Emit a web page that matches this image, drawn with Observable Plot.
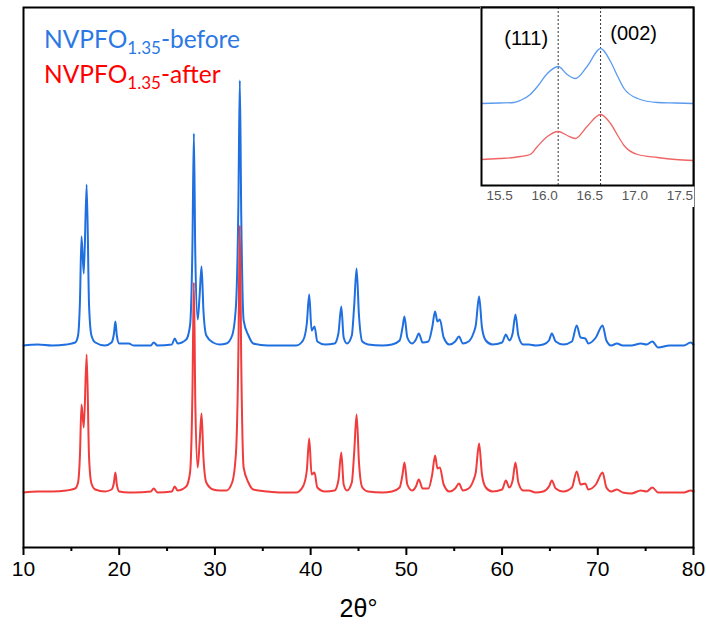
<!DOCTYPE html>
<html>
<head>
<meta charset="utf-8">
<script src="https://cdn.jsdelivr.net/npm/d3@7"></script>
<script src="https://cdn.jsdelivr.net/npm/@observablehq/plot@0.6"></script>
<style>
  body { margin: 0; background: #fff; }
  #wrap { position: relative; width: 706px; height: 634px; overflow: hidden; background: #fff; }
  #main { position: absolute; left: 0; top: 0; }
  #inset { position: absolute; left: 480px; top: 7px; }
</style>
</head>
<body>
<div id="wrap"><div id="main"></div><div id="inset"></div></div>
<script>
// ---- Data ----
const twoTheta = [
  10, 11.5, 13, 14.5, 15.4, 15.7, 15.9, 16.06, 16.3, 16.6, 16.85, 17.1, 17.5, 18.5,
  19.2, 19.45, 19.6, 19.75, 20.0, 21.0, 21.5, 23.3, 23.6, 24, 25.5, 25.8, 26.1,
  27.0, 27.4, 27.65, 27.8, 27.95, 28.2, 28.4, 28.6, 28.8, 29.1, 29.8, 30.5, 31.2,
  31.8, 32.2, 32.45, 32.6, 32.75, 33.0, 33.5, 34.0, 35.5, 37.0, 38.5,
  39.2, 39.6, 39.85, 40.1, 40.4, 40.7, 41.5, 42.5, 42.9, 43.2, 43.45, 43.8,
  44.3, 44.55, 44.8, 45.05, 45.4, 46, 47.5, 48.5,
  49.3, 49.6, 49.8, 50.1, 50.6, 51.0, 51.3, 51.7, 52.3, 52.7, 53.0, 53.25, 53.5, 53.9,
  54.5, 55.1, 55.5, 55.9, 56.5, 57.0, 57.25, 57.6, 57.9, 58.3, 59.0,
  60.0, 60.4, 60.75, 61.1, 61.4, 61.7, 62.2, 62.8, 63.5, 64.3, 64.9, 65.2, 65.6, 66.4,
  67.3, 67.8, 68.2, 68.7, 69.0, 69.8, 70.5, 70.9, 71.4, 72.0, 72.6, 73.5,
  74.5, 75.1, 75.7, 76.3, 77.5, 79.0, 79.7, 80.0
];
const before = [
  0, 1, 0, 1, 3, 10, 45, 109, 72, 161, 40, 10, 3, 0,
  3, 12, 24, 10, 2, 2, 0, 0, 3, 0, 1, 7, 2,
  6, 20, 100, 212, 90, 26, 50, 79, 35, 10, 3, 1, 2,
  10, 40, 140, 265, 130, 25, 10, 2, 0, 0, 0,
  5, 22, 51, 15, 19, 4, 1, 2, 12, 39, 8, 2,
  10, 40, 77, 30, 4, 1, 0, 1,
  5, 18, 29, 8, 2, 6, 12, 3, 4, 18, 34, 24, 26, 8,
  1, 4, 9, 2, 4, 12, 20, 49, 18, 5, 1,
  3, 11, 5, 12, 31, 10, 1, 1, 0, 1, 5, 12, 4, 1,
  4, 20, 8, 7, 2, 8, 20, 5, 0, 2, 0, 0,
  2, 1, 4, -2, 0, 0, 3, 1
];
const after = [
  0, 1, 1, 2, 4, 10, 38, 88, 65, 138, 35, 9, 3, 1,
  3, 10, 20, 8, 1, 0, 0, 1, 4, 0, 1, 6, 2,
  6, 20, 100, 210, 90, 25, 50, 79, 35, 10, 3, 2, 2,
  10, 40, 140, 267, 130, 25, 10, 3, 1, 0, 0,
  6, 22, 54, 18, 20, 5, 1, 2, 12, 40, 8, 2,
  10, 40, 78, 30, 5, 1, 0, 1,
  5, 18, 30, 8, 2, 6, 13, 4, 4, 18, 37, 24, 25, 8,
  1, 4, 9, 2, 4, 12, 20, 49, 18, 5, 1,
  3, 12, 5, 12, 30, 10, 2, 2, 0, 1, 6, 12, 4, 1,
  5, 21, 8, 9, 3, 8, 20, 5, 1, 3, 0, -1,
  2, 1, 5, 0, 0, 0, 2, 1
];
const offsetBefore = 202;   // vertical stacking of the two patterns (a.u.)
const offsetAfter = 55;

const majorTicks = [10, 20, 30, 40, 50, 60, 70, 80];
const minorTicks = [15, 25, 35, 45, 55, 65, 75];

// inset (zoom on 15.3–17.65°)
const insetTheta  = [15.3, 15.5, 15.66, 15.73, 15.84, 15.92, 16.03, 16.15, 16.25, 16.34, 16.47, 16.62, 16.73, 16.81, 16.88, 17.03, 17.25, 17.45, 17.65];
const insetBefore = [0, 0.5, 1, 3, 9, 17, 30, 37, 29, 25, 37, 55, 42, 27, 15, 5, 1, 0.5, 0];
const insetAfter  = [0, 1, 2, 3, 5, 13, 23, 28, 24, 21, 33, 45, 36, 24, 14, 5, 2, 0, -1];
const insetOffsetBefore = 82;
const insetOffsetAfter = 26;
const insetTicks = [15.5, 16.0, 16.5, 17.0, 17.5];
const hklPositions = [16.15, 16.62];
const hklLabels = ["(111)", "(002)"];

const seriesNames = ["NVPFO", "NVPFO"];
const seriesSub = ["1.35", "1.35"];
const seriesSuffix = ["-before", "-after"];

// ---- Styles ----
const blue = "#1f6fe0", red = "#f03c3c";
const blueLight = "#5b9bef", redLight = "#f06464";
const legendColors = ["#2b78e4", "#ff0000"];
const axisFont = "'Liberation Sans', Arial, sans-serif";

const idx = d3.range(twoTheta.length);
const main = Plot.plot({
  width: 706, height: 634,
  marginLeft: 23, marginRight: 13, marginTop: 7, marginBottom: 87,
  x: {domain: [10, 80]},
  y: {domain: [0, 540], axis: null},
  style: {fontFamily: axisFont, background: "white", color: "black"},
  marks: [
    Plot.line(idx, {x: i => twoTheta[i], y: i => before[i] + offsetBefore, stroke: blue, strokeWidth: 2, curve: "monotone-x"}),
    Plot.line(idx, {x: i => twoTheta[i], y: i => after[i] + offsetAfter, stroke: red, strokeWidth: 2, curve: "monotone-x"}),
    Plot.frame({stroke: "black", strokeWidth: 2}),
    Plot.axisX({ticks: majorTicks, tickSize: 8, tickPadding: 6, fontSize: 21, tickFormat: d => String(d), strokeWidth: 2, label: null}),
    Plot.axisX({ticks: minorTicks, tickSize: 4, tickFormat: () => "", strokeWidth: 2, label: null}),
    Plot.text(["2θ°"], {frameAnchor: "bottom", dy: 69, fontSize: 25, fill: "black"})
  ]
});
document.getElementById("main").appendChild(main);

// legend (rich text with subscripts)
const svg = d3.select(main);
const legendTops = [48, 83];
for (let k = 0; k < 2; k++) {
  const t = svg.append("text")
    .attr("x", 44).attr("y", legendTops[k])
    .attr("text-anchor", "start")
    .attr("fill", legendColors[k])
    .style("font-family", "Lato, 'Open Sans', sans-serif")
    .style("font-size", "24.5px");
  t.append("tspan").text(seriesNames[k]);
  t.append("tspan").attr("dy", 6).style("font-size", "17px").text(seriesSub[k]);
  t.append("tspan").attr("dy", -6).text(seriesSuffix[k]);
}

// inset
const iidx = d3.range(insetTheta.length);
const inset = Plot.plot({
  width: 214, height: 200,
  marginLeft: 1, marginRight: 1, marginTop: 0, marginBottom: 22,
  x: {domain: [15.3, 17.65]},
  y: {domain: [0, 178], axis: null},
  style: {fontFamily: "'Liberation Sans', Arial, sans-serif", background: "white", color: "black", overflow: "visible"},
  marks: [
    Plot.ruleX(hklPositions, {stroke: "#333", strokeWidth: 1, strokeDasharray: "2,2"}),
    Plot.line(iidx, {x: i => insetTheta[i], y: i => insetBefore[i] + insetOffsetBefore, stroke: blueLight, strokeWidth: 1.3, curve: "monotone-x"}),
    Plot.line(iidx, {x: i => insetTheta[i], y: i => insetAfter[i] + insetOffsetAfter, stroke: redLight, strokeWidth: 1.3, curve: "monotone-x"}),
    Plot.frame({stroke: "black", strokeWidth: 2}),
    Plot.axisX({ticks: insetTicks, tickSize: 0, tickPadding: 5, fontSize: 13.5, fill: "#555", tickFormat: d3.format(".1f"), label: null}),
    Plot.text([hklLabels[0]], {x: [hklPositions[0]], frameAnchor: "top", lineAnchor: "middle", dx: -32, dy: 31, fontSize: 20, fill: "black"}),
    Plot.text([hklLabels[1]], {x: [hklPositions[1]], frameAnchor: "top", lineAnchor: "middle", dx: 33, dy: 26, fontSize: 20, fill: "black"})
  ]
});
document.getElementById("inset").appendChild(inset);
</script>
</body>
</html>
